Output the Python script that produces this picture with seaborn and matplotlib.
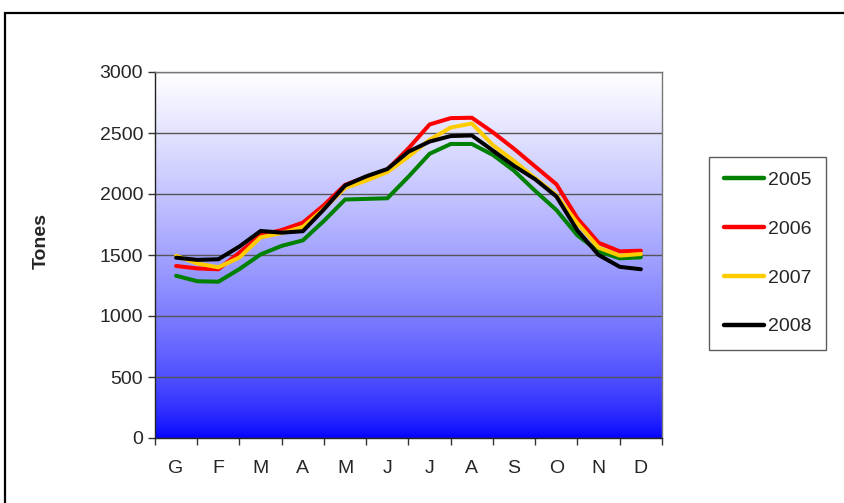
import numpy as np
import pandas as pd
import seaborn as sns
import matplotlib.pyplot as plt
from matplotlib.patches import Rectangle

sns.set_style("white")
plt.rcParams['font.family'] = ['Liberation Sans', 'DejaVu Sans']

MONTHS = ["G", "F", "M", "A", "M", "J", "J", "A", "S", "O", "N", "D"]
YEARS = ["2005", "2006", "2007", "2008"]
COLORS = {"2005": "#008000", "2006": "#FF0000", "2007": "#FFCC00", "2008": "#000000"}

# half-month readings, Jan (G) to Dec (D)
t2005 = [1330, 1285, 1281, 1385, 1505, 1575, 1620, 1780, 1955, 1960, 1965, 2142,
         2330, 2410, 2410, 2320, 2190, 2025, 1869, 1660, 1530, 1473, 1481]
t2006 = [1410, 1390, 1383, 1520, 1664, 1705, 1765, 1910, 2075, 2140, 2200, 2375,
         2570, 2622, 2625, 2505, 2370, 2225, 2080, 1800, 1600, 1530, 1535]
t2007 = [1494, 1430, 1399, 1480, 1645, 1680, 1730, 1880, 2050, 2110, 2180, 2306,
         2445, 2545, 2578, 2400, 2270, 2130, 1990, 1760, 1560, 1495, 1508]
t2008 = [1478, 1460, 1465, 1570, 1697, 1683, 1695, 1875, 2070, 2145, 2205, 2347,
         2430, 2475, 2480, 2355, 2230, 2120, 1980, 1700, 1500, 1403, 1383]

pos = np.arange(len(t2005)) / 2.0
df = pd.concat([
    pd.DataFrame({"pos": pos, "Tones": vals, "year": y})
    for y, vals in zip(YEARS, [t2005, t2006, t2007, t2008])
])

FS = 14

fig = plt.figure(figsize=(8.45, 5.03), dpi=100)
ax = fig.add_axes([155 / 845, 1 - 438 / 503, (662 - 155) / 845, (438 - 72) / 503])

# gradient background white -> blue
f = np.linspace(0, 1, 256)[:, None]
g = f ** 0.65
grad = np.dstack([g, g, np.ones_like(g)])
ax.imshow(grad, extent=(-0.5, 11.5, 0, 3000), origin='lower', aspect='auto', zorder=0)

sns.lineplot(data=df, x="pos", y="Tones", hue="year", palette=COLORS,
             linewidth=2.9, ax=ax, zorder=3, sort=True, estimator=None)

ax.set_xlim(-0.5, 11.5)
ax.set_ylim(0, 3000)
ax.set_yticks(range(0, 3001, 500))
ax.yaxis.grid(True, color="#555555", linewidth=1)
ax.set_axisbelow(False)
ax.set_xticks(np.arange(-0.5, 12, 1))
ax.set_xticklabels([])
ax.set_xticks(range(12), minor=True)
ax.set_xticklabels(MONTHS, minor=True)
ax.tick_params(axis='x', which='minor', length=0, pad=16, labelsize=FS)
ax.tick_params(axis='x', which='major', length=5, width=1, direction='out', color="#333333")
ax.tick_params(axis='y', length=5, width=1, direction='out', color="#333333", labelsize=FS, pad=3.5)
ax.tick_params(bottom=True, left=True)
for s in ["top", "right"]:
    ax.spines[s].set_color("#777777")
for s in ["left", "bottom"]:
    ax.spines[s].set_color("#222222")
for sp in ax.spines.values():
    sp.set_linewidth(1)
    sp.set_zorder(4)

ax.set_xlabel("")
ax.set_ylabel("")
fig.text(41 / 845, 1 - 241 / 503, "Tones", rotation=90, fontsize=FS, fontweight='bold',
         ha='center', va='center')

handles, labels = ax.get_legend_handles_labels()
leg = ax.legend(handles, labels, loc='center left', bbox_to_anchor=(709 / 845, 1 - 253.5 / 503),
                bbox_transform=fig.transFigure, frameon=True, fancybox=False,
                fontsize=FS, handlelength=2.1, handletextpad=0.2, labelspacing=1.6,
                borderpad=0.75, borderaxespad=0)
leg.get_frame().set_edgecolor("#333333")
leg.get_frame().set_linewidth(1)
for line in leg.get_lines():
    line.set_linewidth(3.2)

fig.patches.append(Rectangle((5 / 845, -0.2), 1.2, 0.2 + (1 - 13 / 503), transform=fig.transFigure,
                             fill=False, edgecolor="black", linewidth=1.6))

fig.savefig("out.png", dpi=100)
